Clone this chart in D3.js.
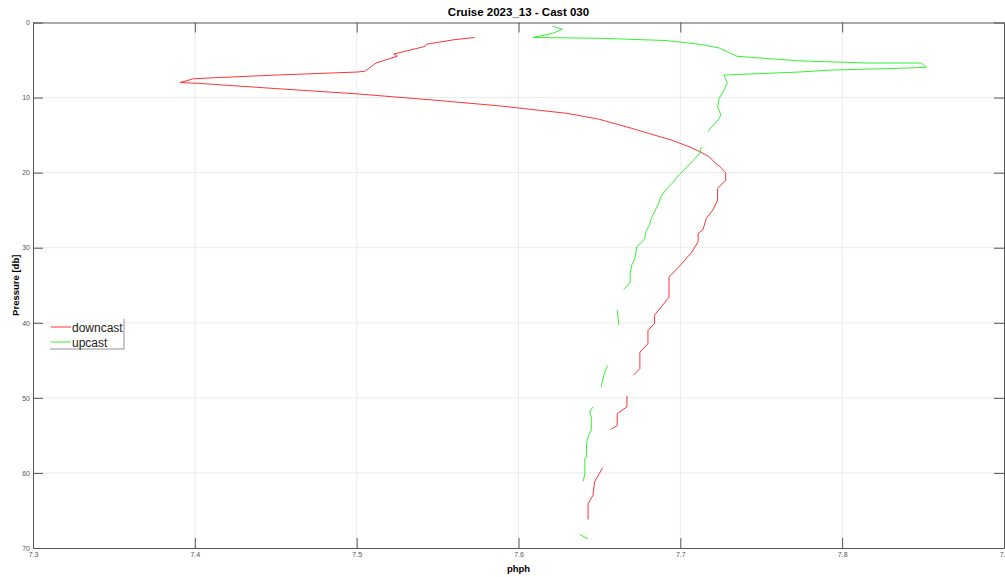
<!DOCTYPE html>
<html>
<head>
<meta charset="utf-8">
<script src="https://cdn.jsdelivr.net/npm/d3@7"></script>
<style>
  body { margin: 0; background: #fff; }
  text { font-family: "Liberation Sans", Arial, sans-serif; }
  .tick text { font-size: 7px; fill: #555; }
</style>
</head>
<body>
<div id="graph"></div>
<script>
// Data: [ph, pressure], null = gap in record
const downcast = [
  [7.573, 2.0], [7.560, 2.3], [7.543, 2.9], [7.542, 3.2], [7.523, 4.2], [7.525, 4.5],
  [7.512, 5.4], [7.505, 6.5], [7.500, 6.6], [7.450, 7.0], [7.408, 7.4], [7.399, 7.5],
  [7.391, 8.0], [7.402, 8.1], [7.450, 8.8], [7.500, 9.5], [7.551, 10.4], [7.588, 11.1],
  [7.613, 11.7], [7.630, 12.1], [7.650, 12.9], [7.670, 14.1], [7.695, 15.7], [7.706, 16.6],
  [7.712, 17.2], [7.718, 17.9], [7.722, 18.8], [7.725, 19.3], [7.728, 20.0],
  [7.728, 21.0], [7.723, 22.1], [7.723, 23.7], [7.720, 25.0], [7.716, 26.1], [7.714, 27.6],
  [7.711, 28.1], [7.711, 29.2], [7.707, 30.6], [7.701, 32.1], [7.693, 33.9], [7.693, 36.6],
  [7.690, 37.4], [7.684, 39.0], [7.684, 40.1], [7.680, 41.0], [7.680, 42.8], [7.675, 43.9],
  [7.675, 46.1], [7.671, 47.0], null,
  [7.667, 49.7], [7.667, 51.2], [7.661, 52.1], [7.661, 53.7], [7.657, 54.2], null,
  [7.652, 59.3], [7.647, 61.2], [7.646, 63.0], [7.643, 64.1], [7.643, 66.2]
];

const upcast = [
  [7.638, 68.2], [7.643, 68.8], null,
  [7.640, 61.1], [7.641, 60.1], [7.641, 58.1], [7.642, 57.9], [7.642, 56.1], [7.643, 55.2],
  [7.645, 54.3], [7.645, 52.6], [7.644, 51.9], [7.646, 51.2], null,
  [7.651, 48.6], [7.653, 46.8], [7.655, 45.7], null,
  [7.662, 40.3], [7.661, 38.3], null,
  [7.665, 35.6], [7.669, 34.6], [7.669, 33.4], [7.670, 32.3], [7.672, 31.4], [7.673, 29.9],
  [7.678, 28.8], [7.679, 27.7], [7.681, 27.0], [7.682, 26.1], [7.685, 24.8], [7.687, 23.9],
  [7.688, 23.2], [7.691, 22.3], [7.695, 21.4], [7.698, 20.6], [7.702, 19.7], [7.707, 18.6],
  [7.712, 17.4], [7.713, 16.6], null,
  [7.717, 14.5], [7.724, 12.8], [7.725, 12.3], [7.723, 11.2], [7.724, 10.1], [7.727, 9.0],
  [7.729, 8.1], [7.727, 7.0], [7.773, 6.6], [7.794, 6.33], [7.835, 6.1], [7.852, 5.97],
  [7.849, 5.4], [7.815, 5.4], [7.773, 5.1], [7.735, 4.5], [7.724, 3.4], [7.712, 2.9],
  [7.691, 2.4], [7.650, 2.1], [7.609, 2.0], [7.621, 1.45], [7.627, 0.9], [7.621, 0.47]
];

const xTicks = [7.3, 7.4, 7.5, 7.6, 7.7, 7.8, 7.9];
const yTicks = [0, 10, 20, 30, 40, 50, 60, 70];
const series = [
  { name: "downcast", color: "#ff0000", values: downcast },
  { name: "upcast", color: "#00ee00", values: upcast }
];

const width = 1005, height = 577;
const margin = { top: 22.5, right: 1, bottom: 29, left: 33 };

const svg = d3.select("#graph")
    .append("svg")
    .attr("width", width)
    .attr("height", height);

const xScale = d3.scaleLinear().domain([7.3, 7.9]).range([margin.left, width - margin.right]);
const yScale = d3.scaleLinear().domain([0, 70]).range([margin.top, height - margin.bottom]);

// Grid lines
svg.append("g")
    .selectAll("line.vg")
    .data(xTicks.slice(1, -1))
    .join("line")
    .attr("x1", d => xScale(d)).attr("x2", d => xScale(d))
    .attr("y1", yScale(0)).attr("y2", yScale(70))
    .attr("stroke", "#e6e6e6").attr("stroke-width", 0.8);

svg.append("g")
    .selectAll("line.hg")
    .data(yTicks.slice(1, -1))
    .join("line")
    .attr("x1", xScale(7.3)).attr("x2", xScale(7.9))
    .attr("y1", d => yScale(d)).attr("y2", d => yScale(d))
    .attr("stroke", "#e6e6e6").attr("stroke-width", 0.8);

// Axes (ticks inside the box)
const fmt = d3.format(".1f");
const styleAxis = g => {
    g.select(".domain").attr("stroke", "#555").attr("stroke-width", 1);
    g.selectAll(".tick line").attr("stroke", "#555");
};

svg.append("g")
    .attr("transform", `translate(0, ${yScale(70)})`)
    .call(d3.axisBottom(xScale).tickValues(xTicks).tickFormat(fmt).tickSizeInner(-10).tickSizeOuter(0).tickPadding(4))
    .call(styleAxis);

svg.append("g")
    .attr("transform", `translate(0, ${yScale(0)})`)
    .call(d3.axisTop(xScale).tickValues(xTicks).tickFormat("").tickSizeInner(-10).tickSizeOuter(0))
    .call(styleAxis);

svg.append("g")
    .attr("transform", `translate(${xScale(7.3)}, 0)`)
    .call(d3.axisLeft(yScale).tickValues(yTicks).tickSizeInner(-10).tickSizeOuter(0).tickPadding(3))
    .call(styleAxis);

svg.append("g")
    .attr("transform", `translate(${xScale(7.9)}, 0)`)
    .call(d3.axisRight(yScale).tickValues(yTicks).tickFormat("").tickSizeInner(-10).tickSizeOuter(0))
    .call(styleAxis);

// Data lines
const line = d3.line()
    .defined(d => d !== null)
    .x(d => xScale(d[0]))
    .y(d => yScale(d[1]));

svg.append("g")
    .selectAll("path.cast")
    .data(series)
    .join("path")
    .attr("fill", "none")
    .attr("stroke", d => d.color)
    .attr("stroke-width", 0.8)
    .attr("d", d => line(d.values));

// Title and labels
svg.append("text")
    .attr("x", (xScale(7.3) + xScale(7.9)) / 2)
    .attr("y", 16)
    .attr("text-anchor", "middle")
    .style("font-size", "11.5px")
    .style("font-weight", "bold")
    .text("Cruise 2023_13 - Cast 030");

svg.append("text")
    .attr("x", (xScale(7.3) + xScale(7.9)) / 2)
    .attr("y", 572)
    .attr("text-anchor", "middle")
    .style("font-size", "9.5px")
    .style("font-weight", "bold")
    .text("phph");

svg.append("text")
    .attr("transform", `translate(19, ${(yScale(0) + yScale(70)) / 2}) rotate(-90)`)
    .attr("text-anchor", "middle")
    .style("font-size", "9.5px")
    .style("font-weight", "bold")
    .text("Pressure [db]");

// Legend
const legend = svg.append("g").attr("transform", "translate(50, 319)");
legend.append("rect")
    .attr("width", 74).attr("height", 30)
    .attr("fill", "#fff").attr("stroke", "none");
legend.append("path")
    .attr("d", "M0,30 H74 V0")
    .attr("fill", "none").attr("stroke", "#777").attr("stroke-width", 0.8);
legend.selectAll("g.item")
    .data(series)
    .join("g")
    .attr("transform", (d, i) => `translate(0, ${8 + i * 15})`)
    .each(function(d) {
        const g = d3.select(this);
        g.append("line").attr("x1", 1).attr("x2", 21)
            .attr("stroke", d.color).attr("stroke-width", 0.8);
        g.append("text").attr("x", 22).attr("y", 4.5)
            .style("font-size", "12px").style("fill", "#222")
            .text(d.name);
    });
</script>
</body>
</html>
